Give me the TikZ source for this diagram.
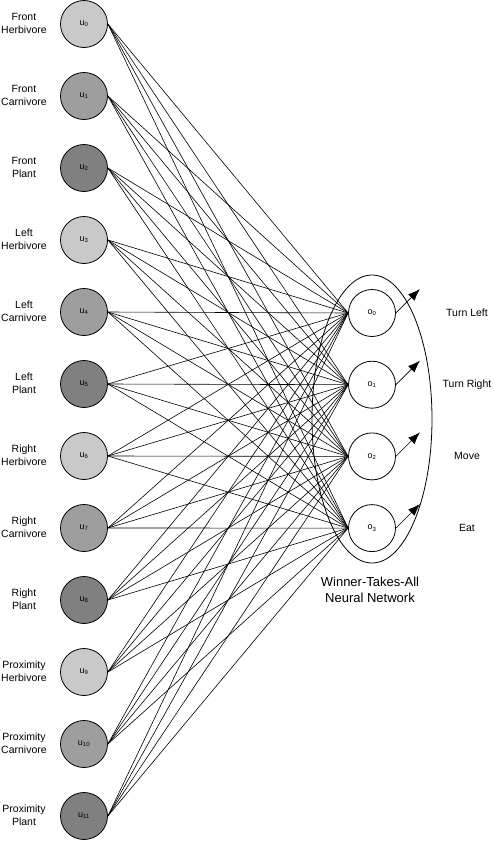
\documentclass[tikz,border=0pt]{standalone}
\usepackage{fontspec}
\setmainfont{Liberation Sans}
\usetikzlibrary{arrows.meta,shapes.geometric}

\tikzset{
  neuron/.style={circle, draw, line width=0.8pt, minimum size=47pt, inner sep=0pt,
    font=\fontsize{9}{10}\selectfont},
  herb/.style={neuron, fill=black!21},
  carn/.style={neuron, fill=black!38},
  plant/.style={neuron, fill=black!50},
  outn/.style={neuron, fill=white},
  inlabel/.style={align=center, font=\fontsize{10.5}{13}\selectfont},
  outlabel/.style={font=\fontsize{10.5}{13}\selectfont},
  wire/.style={line width=0.6pt},
}

\begin{document}
\begin{tikzpicture}[x=1pt,y=-1pt]
\useasboundingbox (0,0) rectangle (493,841);

% group round the output layer
\node[draw, ellipse, line width=0.8pt, minimum width=120pt, minimum height=288pt,
  inner sep=0pt] (wta) at (372,419) {};
\node[anchor=north, align=center, font=\fontsize{13}{16}\selectfont]
  (wtacap) at ([shift={(-2pt,-10pt)}]wta.south) {Winner-Takes-All\\Neural Network};

% inputs
\foreach \i/\kind/\txt in {0/herb/{Front\\Herbivore}, 1/carn/{Front\\Carnivore},
    2/plant/{Front\\Plant}, 3/herb/{Left\\Herbivore}, 4/carn/{Left\\Carnivore},
    5/plant/{Left\\Plant}, 6/herb/{Right\\Herbivore}, 7/carn/{Right\\Carnivore},
    8/plant/{Right\\Plant}, 9/herb/{Proximity\\Herbivore},
    10/carn/{Proximity\\Carnivore}, 11/plant/{Proximity\\Plant}}{
  \node[\kind] (u\i) at (84,{24+72*\i}) {u\textsubscript{\i}};
  \node[inlabel] (lab\i) at (24,{23+72*\i}) {\txt};
}

% outputs
\foreach \j/\txt in {0/Turn Left, 1/Turn Right, 2/Move, 3/Eat}{
  \node[outn] (o\j) at (372,{313+71.7*\j}) {o\textsubscript{\j}};
  \node[outlabel] (act\j) at (467,{313+71.7*\j}) {\txt};
  \coordinate (tip\j) at ([shift={(24pt,24pt)}]o\j.east);
  \draw[line width=0.6pt, -{Latex[length=12pt,width=9pt]}] (o\j.east) -- (tip\j);
}

% full connection
\foreach \i in {0,...,11}
  \foreach \j in {0,...,3}
    \draw[wire] (u\i.east) -- (o\j.west);

\end{tikzpicture}
\end{document}
